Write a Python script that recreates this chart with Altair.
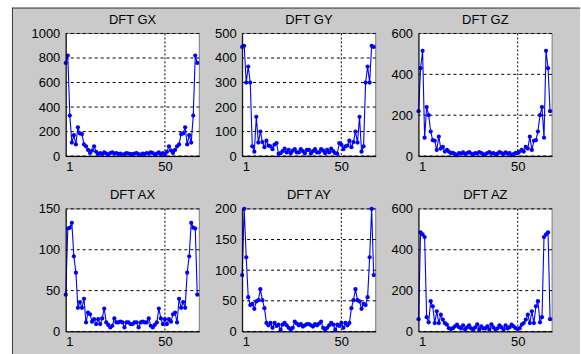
import altair as alt
import pandas as pd

# sample number (DFT bin index)
sample = list(range(1, 67))

gx = [760, 820, 330, 110, 170, 95, 235, 185, 180, 95, 80, 50, 25, 45, 80, 35, 15, 25, 15, 30, 20, 10, 25, 30, 20, 25, 15, 20, 10, 15, 25, 20, 15,
      15, 20, 25, 15, 10, 20, 15, 25, 20, 30, 25, 10, 20, 30, 15, 25, 15, 35, 80, 45, 25, 50, 80, 95, 180, 185, 235, 95, 170, 110, 330, 820, 760]
gy = [445, 450, 300, 365, 300, 40, 18, 160, 55, 100, 57, 36, 63, 43, 40, 28, 47, 53, 9, 12, 20, 30, 15, 25, 12, 22, 28, 15, 15, 28, 20, 10, 25,
      25, 10, 20, 28, 15, 15, 28, 22, 12, 25, 15, 30, 20, 12, 9, 53, 47, 28, 40, 43, 63, 36, 57, 100, 55, 160, 18, 40, 300, 365, 300, 450, 445]
gz = [220, 430, 515, 90, 240, 200, 120, 78, 75, 30, 95, 37, 45, 22, 30, 22, 14, 16, 10, 5, 15, 12, 18, 10, 15, 20, 12, 8, 15, 12, 20, 15, 8,
      8, 15, 20, 12, 15, 8, 12, 20, 15, 10, 18, 12, 15, 5, 10, 16, 14, 22, 30, 22, 45, 37, 95, 30, 75, 78, 120, 200, 240, 90, 515, 430, 220]
ax = [45, 126, 127, 133, 92, 72, 29, 36, 29, 40, 11, 23, 21, 12, 15, 9, 15, 9, 16, 28, 11, 8, 5, 7, 16, 11, 11, 12, 11, 5, 11, 11, 9,
      9, 11, 11, 5, 11, 12, 11, 11, 16, 7, 5, 8, 11, 28, 16, 9, 15, 9, 15, 12, 21, 23, 11, 40, 29, 36, 29, 72, 92, 133, 127, 126, 45]
ay = [92, 200, 121, 56, 43, 45, 37, 49, 51, 69, 51, 38, 14, 10, 14, 6, 14, 9, 11, 3, 11, 14, 10, 6, 3, 6, 16, 13, 10, 12, 8, 10, 12,
      12, 10, 8, 12, 10, 13, 16, 6, 3, 6, 10, 14, 11, 3, 11, 9, 14, 6, 14, 10, 14, 38, 51, 69, 51, 49, 37, 45, 43, 56, 121, 200, 92]
az = [60, 485, 475, 462, 70, 45, 148, 123, 41, 99, 41, 82, 58, 41, 33, 16, 12, 16, 25, 33, 21, 15, 30, 10, 20, 30, 15, 10, 20, 35, 10, 25, 15,
      15, 25, 10, 35, 20, 10, 15, 30, 20, 10, 30, 15, 21, 33, 25, 16, 12, 16, 33, 41, 58, 82, 41, 99, 41, 123, 148, 45, 70, 462, 475, 485, 60]

titles = ["DFT GX", "DFT GY", "DFT GZ", "DFT AX", "DFT AY", "DFT AZ"]
series = [gx, gy, gz, ax, ay, az]
ymaxes = [1000, 500, 600, 150, 200, 600]
yticks = [
    [0, 200, 400, 600, 800, 1000],
    [0, 100, 200, 300, 400, 500],
    [0, 200, 400, 600],
    [0, 50, 100, 150],
    [0, 50, 100, 150, 200],
    [0, 200, 400, 600],
]
xticks = [1, 50]
xgrid = [50]

W, H = 134, 123
BLUE = "#0000FF"
GREY = "#CACACA"
EDGE = "#3a3a3a"
FONT = "Liberation Sans"


def panel(title, vals, ymax, yt, first=False):
    df = pd.DataFrame({"n": sample, "v": vals})
    one = pd.DataFrame({"k": [0]})
    lab = pd.DataFrame({"title": [title]})
    xs = alt.Scale(domain=[1, 67], nice=False, zero=False)
    ys = alt.Scale(domain=[0, ymax], nice=False)
    xax = alt.Axis(values=xticks, title=None, grid=False, ticks=False, tickSize=0,
                   labelPadding=4, zindex=1)
    yax = alt.Axis(values=yt, title=None, grid=False, ticks=False, tickSize=0,
                   labelPadding=6, zindex=1, format="d")
    layers = []
    if first:
        layers.append(alt.Chart(one).mark_rect(color=GREY).encode(
            x=alt.value(-54), x2=alt.value(516), y=alt.value(-26), y2=alt.value(322)))
        layers.append(alt.Chart(one).mark_rule(color=EDGE, strokeWidth=1).encode(
            x=alt.value(-53.5), y=alt.value(-26), y2=alt.value(322)))
        layers.append(alt.Chart(one).mark_rule(color=EDGE, strokeWidth=1).encode(
            x=alt.value(-54), x2=alt.value(516), y=alt.value(-25.5)))
    layers.append(alt.Chart(one).mark_rect(fill="white", stroke="#7a7a7a", strokeWidth=1).encode(
        x=alt.value(0), x2=alt.value(W), y=alt.value(0), y2=alt.value(H)))
    ttl = alt.Chart(lab).mark_text(font=FONT, fontSize=13, color="#000", align="center",
                                   baseline="alphabetic").encode(
        text="title:N", x=alt.value(W / 2), y=alt.value(-10))
    hgrid = alt.Chart(pd.DataFrame({"t": yt})).mark_rule(
        color="#000", strokeWidth=1, strokeDash=[3, 3]).encode(
        y=alt.Y("t:Q", scale=ys, axis=yax))
    vgrid = alt.Chart(pd.DataFrame({"g": xgrid})).mark_rule(
        color="#000", strokeWidth=1, strokeDash=[2, 2]).encode(
        x=alt.X("g:Q", scale=xs, axis=xax))
    line = alt.Chart(df).mark_line(color=BLUE, strokeWidth=1.1).encode(
        x=alt.X("n:Q", scale=xs, axis=xax), y=alt.Y("v:Q", scale=ys, axis=yax))
    pts = alt.Chart(df).mark_point(filled=True, color=BLUE, size=18, opacity=1).encode(
        x=alt.X("n:Q", scale=xs, axis=xax), y=alt.Y("v:Q", scale=ys, axis=yax))
    return alt.layer(*layers, ttl, hgrid, vgrid, line, pts).properties(width=W, height=H)


charts = [panel(titles[i], series[i], ymaxes[i], yticks[i], first=(i == 0)) for i in range(6)]

chart = alt.concat(*charts, columns=3, spacing={"row": 53, "column": 43}, bounds="flush").properties(
    background="white",
    padding={"left": 11, "top": 6, "right": 0, "bottom": 0},
).configure_view(stroke="transparent").configure_axis(
    labelFont=FONT, labelFontSize=13, labelColor="#000",
    domainColor="#000", domainWidth=1,
)

chart.save("out.html", embed_options={"renderer": "svg", "actions": False})
